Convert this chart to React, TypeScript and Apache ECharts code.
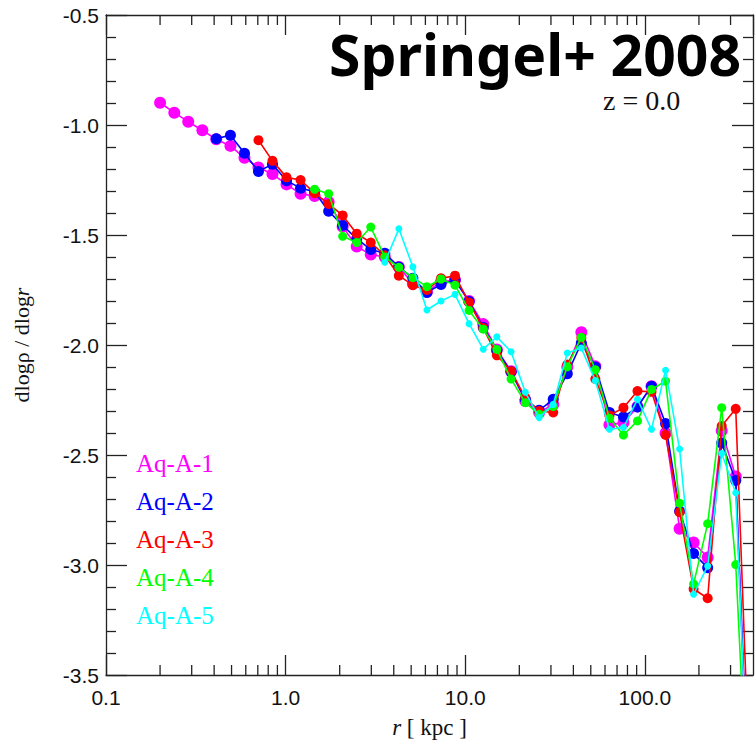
import React, { useEffect, useRef } from "react";
import * as echarts from "echarts";

// radial bins (kpc)
const radii = [
  0.2, 0.24, 0.287, 0.344, 0.411, 0.493, 0.59, 0.706, 0.845, 1.012,
  1.211, 1.45, 1.736, 2.078, 2.488, 2.979, 3.566, 4.27, 5.11, 6.12,
  7.33, 8.77, 10.5, 12.6, 15.0, 18.0, 21.6, 25.8, 30.9, 37.0,
  44.3, 53.0, 63.5, 76.0, 91.0, 108.9, 130.4, 156.1, 186.8, 223.7,
  267.8, 320.6, 383.8,
];

const seriesNames = ["Aq-A-1", "Aq-A-2", "Aq-A-3", "Aq-A-4", "Aq-A-5"];
const seriesColors = ["#ff00ff", "#0000ff", "#ff0000", "#00ff00", "#00ffff"];
const symbolSizes = [12, 11, 10, 9, 7];

const aqA1 = [
  -0.899, -0.944, -0.985, -1.024, -1.065, -1.095, -1.149, -1.193, -1.223, -1.27,
  -1.313, -1.323, -1.35, -1.462, -1.552, -1.589, -1.6, -1.645, -1.722, -1.758,
  -1.713, -1.705, -1.8, -1.905, -2.021, -2.119, -2.255, -2.307, -2.27, -2.1,
  -1.942, -2.097, -2.363, -2.353, -2.28, -2.187, -2.4, -2.835, -2.898, -2.966,
  -2.39, -2.598, -4.2,
];
const aqA2 = [
  null, null, null, null, -1.062, -1.047, -1.128, -1.211, -1.178, -1.253,
  -1.287, -1.303, -1.392, -1.456, -1.517, -1.566, -1.583, -1.645, -1.697, -1.761,
  -1.725, -1.705, -1.802, -1.92, -2.026, -2.122, -2.247, -2.297, -2.247, -2.131,
  -1.991, -2.1, -2.307, -2.327, -2.282, -2.187, -2.357, -2.756, -2.948, -3.012,
  -2.446, -2.616, -4.2,
];
const aqA3 = [
  null, null, null, null, null, null, null, -1.069, -1.163, -1.238,
  -1.25, -1.31, -1.359, -1.411, -1.494, -1.534, -1.592, -1.685, -1.728, -1.75,
  -1.697, -1.685, -1.807, -1.923, -2.047, -2.119, -2.24, -2.3, -2.307, -2.089,
  -1.967, -2.154, -2.32, -2.285, -2.209, -2.213, -2.409, -2.76, -3.109, -3.151,
  -2.368, -2.29, -4.0,
];
const aqA4 = [
  null, null, null, null, null, null, null, null, null, null,
  null, -1.292, -1.312, -1.506, -1.534, -1.464, -1.6, -1.647, -1.694, -1.735,
  -1.7, -1.728, -1.843, -1.928, -2.02, -2.155, -2.262, -2.315, -2.28, -2.099,
  -1.965, -2.112, -2.333, -2.409, -2.345, -2.202, -2.164, -2.719, -3.086, -2.812,
  -2.285, -2.998, -4.3,
];
const aqA5 = [
  null, null, null, null, null, null, null, null, null, null,
  null, null, null, null, null, null, -1.624, -1.472, -1.645, -1.841,
  -1.8, -1.77, -1.903, -2.019, -1.963, -2.031, -2.215, -2.33, -2.27, -2.036,
  -2.014, -2.162, -2.383, -2.375, -2.247, -2.383, -2.115, -2.473, -3.133, -3.005,
  -2.493, -2.672, -4.2,
];
const allSeries = [aqA1, aqA2, aqA3, aqA4, aqA5];

// axis ticks (in kpc)
const xMajorTicks = [0.1, 1, 10, 100];
const xMinorTicks = [
  0.2, 0.3, 0.4, 0.5, 0.6, 0.7, 0.8, 0.9,
  2, 3, 4, 5, 6, 7, 8, 9,
  20, 30, 40, 50, 60, 70, 80, 90,
  200, 300,
];

const X_MIN = 0.1;
const X_MAX = 400;
const Y_MIN = -3.5;
const Y_MAX = -0.5;
const Y_INTERVAL = 0.5;

const AXIS_COLOR = "#222";
const SANS = "'Liberation Sans', Arial, Helvetica, sans-serif";
const SERIF = "'Liberation Serif', 'Times New Roman', serif";

// the x axis is a value axis on log10(r)
const lg = (v: number) => Math.log10(v);

export default function App() {
  const ref = useRef<HTMLDivElement>(null);

  useEffect(() => {
    if (!ref.current) return;
    const chart = echarts.init(ref.current, null, { renderer: "svg" });

    const lineSeries = allSeries.map((vals, k) => ({
      type: "line",
      name: seriesNames[k],
      data: vals
        .map((v, i) => (v === null ? null : [lg(radii[i]), v]))
        .filter((d) => d !== null),
      symbol: "circle",
      symbolSize: symbolSizes[k],
      showSymbol: true,
      clip: true,
      z: 3 + k,
      lineStyle: { color: seriesColors[k], width: 1.6 },
      itemStyle: { color: seriesColors[k] },
      xAxisIndex: 0,
      yAxisIndex: 0,
    }));

    const minorTickSeries = {
      type: "custom",
      coordinateSystem: "cartesian2d",
      xAxisIndex: 0,
      yAxisIndex: 0,
      silent: true,
      z: 2,
      data: xMinorTicks.map((v) => [lg(v), Y_MIN]),
      renderItem: (params: any, api: any) => {
        const x = api.coord([api.value(0), Y_MIN])[0];
        const cs = params.coordSys;
        const bottom = cs.y + cs.height;
        const top = cs.y;
        return {
          type: "group",
          children: [
            {
              type: "line",
              shape: { x1: x, y1: bottom, x2: x, y2: bottom - 10 },
              style: { stroke: AXIS_COLOR, lineWidth: 1.3 },
            },
            {
              type: "line",
              shape: { x1: x, y1: top, x2: x, y2: top + 10 },
              style: { stroke: AXIS_COLOR, lineWidth: 1.3 },
            },
          ],
        };
      },
    };

    const legendTexts = seriesNames.map((name, k) => ({
      type: "text",
      left: 136,
      top: 451 + 38 * k,
      z: 100,
      style: {
        text: name,
        fill: seriesColors[k],
        font: `25px ${SERIF}`,
      },
    }));

    const axisLine = { show: true, onZero: false, lineStyle: { color: AXIS_COLOR, width: 1.3 } };

    const xAxisCommon = {
      type: "value",
      min: lg(X_MIN),
      max: lg(X_MAX),
      interval: lg(xMajorTicks[1]) - lg(xMajorTicks[0]),
      axisLine,
      axisTick: { show: true, inside: true, length: 20, lineStyle: { color: AXIS_COLOR, width: 1.3 } },
      splitLine: { show: false },
    };

    const yAxisCommon = {
      type: "value",
      min: Y_MIN,
      max: Y_MAX,
      interval: Y_INTERVAL,
      axisLine,
      axisTick: { show: true, inside: true, length: 21, lineStyle: { color: AXIS_COLOR, width: 1.3 } },
      minorTick: { show: true, splitNumber: 5, length: 10, lineStyle: { color: AXIS_COLOR, width: 1.3 } },
      splitLine: { show: false },
      minorSplitLine: { show: false },
    };

    const option = {
      animation: false,
      backgroundColor: "#ffffff",
      grid: { left: 106, right: 2, top: 15, bottom: 65, containLabel: false },
      xAxis: [
        {
          ...xAxisCommon,
          position: "bottom",
          name: "{b|r}{a| [ kpc ]}",
          nameLocation: "middle",
          nameGap: 41,
          nameTextStyle: {
            fontFamily: SERIF,
            fontSize: 23,
            color: "#111",
            rich: {
              a: { fontFamily: SERIF, fontSize: 23, color: "#111" },
              b: { fontFamily: SERIF, fontSize: 23, fontStyle: "italic", color: "#111" },
            },
          },
          axisLabel: {
            show: true,
            margin: 12,
            fontFamily: SANS,
            fontSize: 21,
            color: "#111",
            showMaxLabel: false,
            formatter: (v: number) => Math.pow(10, v).toFixed(1),
          },
        },
        {
          ...xAxisCommon,
          position: "top",
          axisLabel: { show: false },
        },
      ],
      yAxis: [
        {
          ...yAxisCommon,
          position: "left",
          name: "{a|dlogρ / dlog}{b|r}",
          nameLocation: "middle",
          nameGap: 74,
          nameRotate: 90,
          nameTextStyle: {
            fontFamily: SERIF,
            fontSize: 22,
            color: "#111",
            rich: {
              a: { fontFamily: SERIF, fontSize: 22, color: "#111" },
              b: { fontFamily: SERIF, fontSize: 22, fontStyle: "italic", color: "#111" },
            },
          },
          axisLabel: {
            show: true,
            margin: 7,
            fontFamily: SANS,
            fontSize: 21,
            color: "#111",
            formatter: (v: number) => v.toFixed(1),
          },
        },
        {
          ...yAxisCommon,
          position: "right",
          axisLabel: { show: false },
        },
      ],
      graphic: [
        {
          type: "text",
          right: 14,
          top: 25,
          z: 100,
          style: {
            text: "Springel+ 2008",
            fill: "#000",
            font: `bold 57px 'Noto Sans', 'DejaVu Sans', sans-serif`,
          },
        },
        {
          type: "text",
          left: 603,
          top: 86,
          z: 100,
          style: {
            text: "z = 0.0",
            fill: "#111",
            font: `28px ${SERIF}`,
          },
        },
        ...legendTexts,
      ],
      series: [minorTickSeries, ...lineSeries],
    };

    chart.setOption(option as any);
    return () => {
      chart.dispose();
    };
  }, []);

  return (
    <div
      ref={ref}
      style={{ position: "absolute", left: 0, top: 0, width: 755, height: 744, background: "#fff" }}
    />
  );
}
